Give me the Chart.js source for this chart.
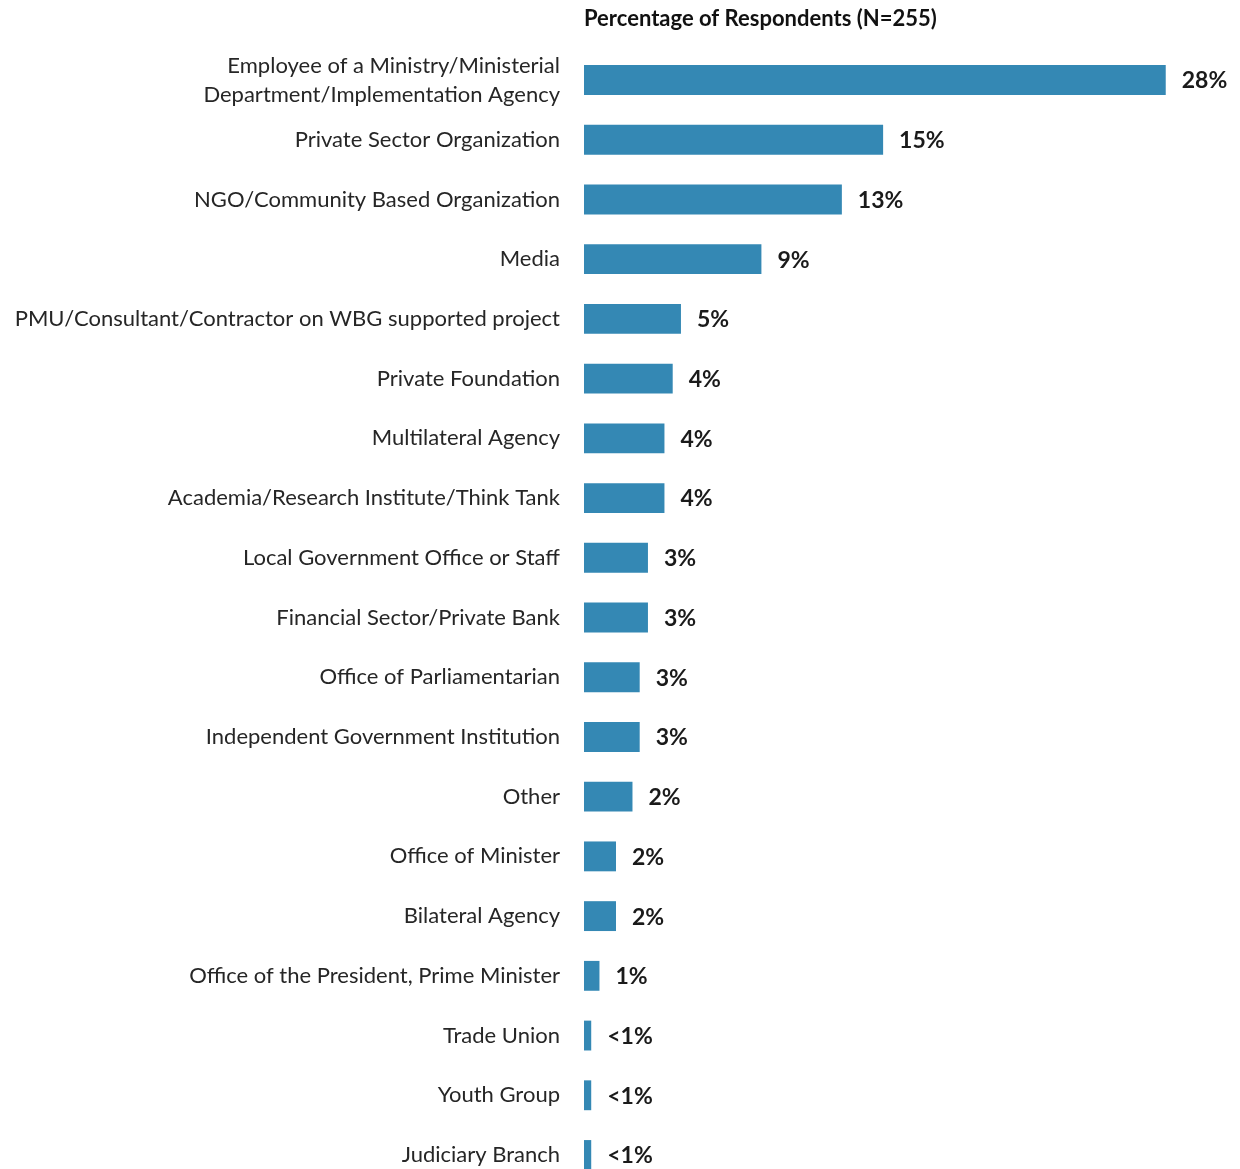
<!DOCTYPE html>
<html>
<head>
<meta charset="utf-8">
<script src="https://cdn.jsdelivr.net/npm/chart.js@4/dist/chart.umd.min.js"></script>
<style>
  html, body { margin: 0; padding: 0; background: #fff; overflow: hidden; }
  #wrap { position: relative; width: 1240px; height: 1169px; }
</style>
</head>
<body>
<div id="wrap"><canvas id="chart"></canvas></div>
<script>
// Категории (первая подпись в две строки)
const categories = [
  ['Employee of a Ministry/Ministerial', 'Department/Implementation Agency'],
  'Private Sector Organization',
  'NGO/Community Based Organization',
  'Media',
  'PMU/Consultant/Contractor on WBG supported project',
  'Private Foundation',
  'Multilateral Agency',
  'Academia/Research Institute/Think Tank',
  'Local Government Office or Staff',
  'Financial Sector/Private Bank',
  'Office of Parliamentarian',
  'Independent Government Institution',
  'Other',
  'Office of Minister',
  'Bilateral Agency',
  'Office of the President, Prime Minister',
  'Trade Union',
  'Youth Group',
  'Judiciary Branch',
];

// Доли респондентов, %
const shares = [28.2, 14.5, 12.5, 8.6, 4.7, 4.3, 3.9, 3.9, 3.1, 3.1, 2.7, 2.7, 2.35, 1.55, 1.55, 0.75, 0.35, 0.35, 0.35];

// Подписи значений
const shareLabels = ['28%', '15%', '13%', '9%', '5%', '4%', '4%', '4%', '3%', '3%', '3%', '3%', '2%', '2%', '2%', '1%', '<1%', '<1%', '<1%'];

const axisTitle = 'Percentage of Respondents (N=255)';

// Плагин для подписей справа от столбцов
const valueLabels = {
  id: 'valueLabels',
  afterDatasetsDraw(chart) {
    const { ctx } = chart;
    const meta = chart.getDatasetMeta(0);
    ctx.save();
    ctx.font = 'bold 23px Lato, sans-serif';
    ctx.fillStyle = '#1a1a1a';
    ctx.textAlign = 'left';
    ctx.textBaseline = 'middle';
    meta.data.forEach((bar, i) => {
      ctx.fillText(shareLabels[i], bar.x + 16, bar.y + 1);
    });
    ctx.restore();
  },
};

new Chart(document.getElementById('chart'), {
  type: 'bar',
  data: {
    labels: categories,
    datasets: [
      {
        data: shares,
        backgroundColor: 'rgb(52, 136, 180)',
        borderWidth: 0,
        barPercentage: 0.5,
        categoryPercentage: 1,
        clip: false,
      },
    ],
  },
  options: {
    indexAxis: 'y',
    responsive: true,
    maintainAspectRatio: false,
    animation: false,
    layout: {
      padding: { top: 0, right: 0, bottom: 14, left: 0 },
    },
    plugins: {
      legend: { display: false },
      tooltip: { enabled: false },
    },
    scales: {
      x: {
        position: 'top',
        min: 0,
        max: 31.8,
        ticks: { display: false },
        grid: { display: false, drawTicks: false },
        border: { display: false },
        title: {
          display: true,
          text: axisTitle,
          align: 'start',
          color: '#111',
          padding: { top: 6, bottom: 0 },
          font: { family: 'Lato, sans-serif', size: 22, weight: 'bold' },
        },
        afterFit(scale) {
          scale.height = 80;
        },
      },
      y: {
        offset: false,
        ticks: {
          autoSkip: false,
          padding: 24,
          color: '#262626',
          font: { family: 'Lato, sans-serif', size: 22, lineHeight: 1.32 },
        },
        grid: { display: false, drawTicks: false },
        border: { display: false },
        afterFit(scale) {
          scale.width = 584;
          scale.paddingTop = 0;
          scale.paddingBottom = 0;
        },
      },
    },
  },
  plugins: [valueLabels],
});
</script>
</body>
</html>
